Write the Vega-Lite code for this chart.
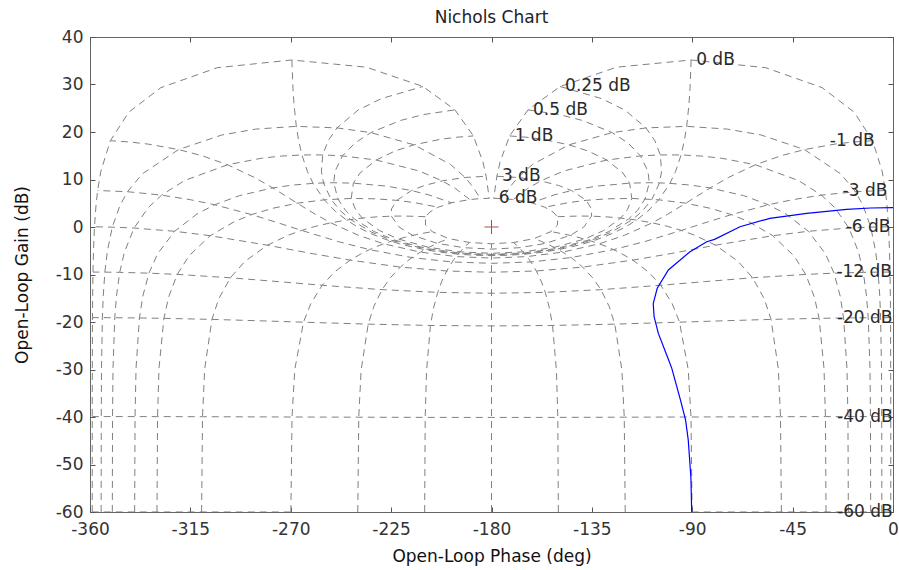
{
"$schema":"https://vega.github.io/schema/vega-lite/v6.json",
"width":803,"height":475,
"autosize":{"type":"none"},
"padding":{"left":90,"top":37,"right":6,"bottom":58},
"background":"white",
"title":{"text":"Nichols Chart","fontSize":17,"font":"DejaVu Sans","fontWeight":"normal","color":"#222","offset":1},
"config":{"view":{"stroke":"#666","strokeWidth":1},"font":"DejaVu Sans"},
"datasets":{
"grid":[
{"g":"p1","x":-1.00,"y":-59.99},{"g":"p1","x":-1.01,"y":-39.91},{"g":"p1","x":-1.03,"y":-29.72},{"g":"p1","x":-1.11,"y":-19.08},{"g":"p1","x":-1.19,"y":-14.50},{"g":"p1","x":-1.34,"y":-9.49},{"g":"p1","x":-1.55,"y":-5.20},{"g":"p1","x":-2.00,"y":0.04},{"g":"p1","x":-2.71,"y":4.65},{"g":"p1","x":-3.42,"y":7.68},{"g":"p1","x":-4.85,"y":11.71},{"g":"p1","x":-9.13,"y":18.17},{"g":"p1","x":-17.37,"y":24.16},{"g":"p1","x":-31.74,"y":29.33},{"g":"p1","x":-57.08,"y":33.54},{"g":"p1","x":-90.5,"y":35.16},{"g":"p1","x":-123.91,"y":33.64},{"g":"p1","x":-149.26,"y":29.58},{"g":"p1","x":-163.63,"y":24.66},{"g":"p1","x":-171.87,"y":19.17},{"g":"p1","x":-176.15,"y":13.71},{"g":"p1","x":-177.58,"y":10.68},{"g":"p1","x":-179.0,"y":6.04},
{"g":"q1","x":-359.00,"y":-59.99},{"g":"q1","x":-358.99,"y":-39.91},{"g":"q1","x":-358.97,"y":-29.72},{"g":"q1","x":-358.89,"y":-19.08},{"g":"q1","x":-358.81,"y":-14.50},{"g":"q1","x":-358.66,"y":-9.49},{"g":"q1","x":-358.45,"y":-5.20},{"g":"q1","x":-358.00,"y":0.04},{"g":"q1","x":-357.29,"y":4.65},{"g":"q1","x":-356.58,"y":7.68},{"g":"q1","x":-355.15,"y":11.71},{"g":"q1","x":-350.87,"y":18.17},{"g":"q1","x":-342.63,"y":24.16},{"g":"q1","x":-328.26,"y":29.33},{"g":"q1","x":-302.92,"y":33.54},{"g":"q1","x":-269.5,"y":35.16},{"g":"q1","x":-236.09,"y":33.64},{"g":"q1","x":-210.74,"y":29.58},{"g":"q1","x":-196.37,"y":24.66},{"g":"q1","x":-188.13,"y":19.17},{"g":"q1","x":-183.85,"y":13.71},{"g":"q1","x":-182.42,"y":10.68},{"g":"q1","x":-181.0,"y":6.04},
{"g":"p5","x":-5.00,"y":-59.99},{"g":"p5","x":-5.05,"y":-39.91},{"g":"p5","x":-5.16,"y":-29.72},{"g":"p5","x":-5.55,"y":-19.09},{"g":"p5","x":-5.94,"y":-14.51},{"g":"p5","x":-6.67,"y":-9.50},{"g":"p5","x":-7.74,"y":-5.22},{"g":"p5","x":-9.99,"y":-0.03},{"g":"p5","x":-13.42,"y":4.51},{"g":"p5","x":-16.82,"y":7.43},{"g":"p5","x":-23.35,"y":11.16},{"g":"p5","x":-39.71,"y":16.30},{"g":"p5","x":-59.11,"y":19.37},{"g":"p5","x":-74.26,"y":20.61},{"g":"p5","x":-92.5,"y":21.19},{"g":"p5","x":-110.74,"y":20.86},{"g":"p5","x":-125.88,"y":19.87},{"g":"p5","x":-145.29,"y":17.30},{"g":"p5","x":-161.65,"y":13.16},{"g":"p5","x":-168.18,"y":10.43},{"g":"p5","x":-171.58,"y":8.51},{"g":"p5","x":-175.02,"y":5.98},
{"g":"q5","x":-355.00,"y":-59.99},{"g":"q5","x":-354.95,"y":-39.91},{"g":"q5","x":-354.84,"y":-29.72},{"g":"q5","x":-354.45,"y":-19.09},{"g":"q5","x":-354.06,"y":-14.51},{"g":"q5","x":-353.33,"y":-9.50},{"g":"q5","x":-352.26,"y":-5.22},{"g":"q5","x":-350.01,"y":-0.03},{"g":"q5","x":-346.58,"y":4.51},{"g":"q5","x":-343.18,"y":7.43},{"g":"q5","x":-336.65,"y":11.16},{"g":"q5","x":-320.29,"y":16.30},{"g":"q5","x":-300.89,"y":19.37},{"g":"q5","x":-285.74,"y":20.61},{"g":"q5","x":-267.5,"y":21.19},{"g":"q5","x":-249.26,"y":20.86},{"g":"q5","x":-234.12,"y":19.87},{"g":"q5","x":-214.71,"y":17.30},{"g":"q5","x":-198.35,"y":13.16},{"g":"q5","x":-191.82,"y":10.43},{"g":"q5","x":-188.42,"y":8.51},{"g":"q5","x":-184.98,"y":5.98},
{"g":"p10","x":-10.01,"y":-59.99},{"g":"p10","x":-10.10,"y":-39.91},{"g":"p10","x":-10.32,"y":-29.73},{"g":"p10","x":-11.10,"y":-19.10},{"g":"p10","x":-11.87,"y":-14.53},{"g":"p10","x":-13.32,"y":-9.55},{"g":"p10","x":-15.41,"y":-5.31},{"g":"p10","x":-19.75,"y":-0.22},{"g":"p10","x":-26.14,"y":4.09},{"g":"p10","x":-32.10,"y":6.71},{"g":"p10","x":-42.35,"y":9.78},{"g":"p10","x":-61.68,"y":13.10},{"g":"p10","x":-76.80,"y":14.47},{"g":"p10","x":-85.66,"y":14.93},{"g":"p10","x":-95,"y":15.17},{"g":"p10","x":-104.34,"y":15.18},{"g":"p10","x":-113.20,"y":14.97},{"g":"p10","x":-128.32,"y":14.10},{"g":"p10","x":-147.65,"y":11.78},{"g":"p10","x":-157.90,"y":9.71},{"g":"p10","x":-163.86,"y":8.09},{"g":"p10","x":-170.25,"y":5.78},
{"g":"q10","x":-349.99,"y":-59.99},{"g":"q10","x":-349.90,"y":-39.91},{"g":"q10","x":-349.68,"y":-29.73},{"g":"q10","x":-348.90,"y":-19.10},{"g":"q10","x":-348.13,"y":-14.53},{"g":"q10","x":-346.68,"y":-9.55},{"g":"q10","x":-344.59,"y":-5.31},{"g":"q10","x":-340.25,"y":-0.22},{"g":"q10","x":-333.86,"y":4.09},{"g":"q10","x":-327.90,"y":6.71},{"g":"q10","x":-317.65,"y":9.78},{"g":"q10","x":-298.32,"y":13.10},{"g":"q10","x":-283.20,"y":14.47},{"g":"q10","x":-274.34,"y":14.93},{"g":"q10","x":-265,"y":15.17},{"g":"q10","x":-255.66,"y":15.18},{"g":"q10","x":-246.80,"y":14.97},{"g":"q10","x":-231.68,"y":14.10},{"g":"q10","x":-212.35,"y":11.78},{"g":"q10","x":-202.10,"y":9.71},{"g":"q10","x":-196.14,"y":8.09},{"g":"q10","x":-189.75,"y":5.78},
{"g":"p20","x":-20.02,"y":-60},{"g":"p20","x":-20.20,"y":-39.92},{"g":"p20","x":-20.64,"y":-29.74},{"g":"p20","x":-22.16,"y":-19.15},{"g":"p20","x":-23.64,"y":-14.62},{"g":"p20","x":-26.42,"y":-9.72},{"g":"p20","x":-30.32,"y":-5.62},{"g":"p20","x":-37.95,"y":-0.90},{"g":"p20","x":-47.93,"y":2.73},{"g":"p20","x":-55.88,"y":4.68},{"g":"p20","x":-66.97,"y":6.60},{"g":"p20","x":-81.94,"y":8.23},{"g":"p20","x":-90.73,"y":8.82},{"g":"p20","x":-100,"y":9.19},{"g":"p20","x":-104.67,"y":9.28},{"g":"p20","x":-109.27,"y":9.32},{"g":"p20","x":-118.06,"y":9.23},{"g":"p20","x":-133.03,"y":8.60},{"g":"p20","x":-144.12,"y":7.68},{"g":"p20","x":-152.07,"y":6.73},{"g":"p20","x":-162.05,"y":5.10},
{"g":"q20","x":-339.98,"y":-60},{"g":"q20","x":-339.80,"y":-39.92},{"g":"q20","x":-339.36,"y":-29.74},{"g":"q20","x":-337.84,"y":-19.15},{"g":"q20","x":-336.36,"y":-14.62},{"g":"q20","x":-333.58,"y":-9.72},{"g":"q20","x":-329.68,"y":-5.62},{"g":"q20","x":-322.05,"y":-0.90},{"g":"q20","x":-312.07,"y":2.73},{"g":"q20","x":-304.12,"y":4.68},{"g":"q20","x":-293.03,"y":6.60},{"g":"q20","x":-278.06,"y":8.23},{"g":"q20","x":-269.27,"y":8.82},{"g":"q20","x":-260,"y":9.19},{"g":"q20","x":-255.33,"y":9.28},{"g":"q20","x":-250.73,"y":9.32},{"g":"q20","x":-241.94,"y":9.23},{"g":"q20","x":-226.97,"y":8.60},{"g":"q20","x":-215.88,"y":7.68},{"g":"q20","x":-207.93,"y":6.73},{"g":"q20","x":-197.95,"y":5.10},
{"g":"p30","x":-30.03,"y":-60},{"g":"p30","x":-30.29,"y":-39.92},{"g":"p30","x":-30.93,"y":-29.76},{"g":"p30","x":-33.13,"y":-19.23},{"g":"p30","x":-35.25,"y":-14.75},{"g":"p30","x":-39.12,"y":-9.98},{"g":"p30","x":-44.36,"y":-6.09},{"g":"p30","x":-53.88,"y":-1.83},{"g":"p30","x":-64.82,"y":1.15},{"g":"p30","x":-72.45,"y":2.61},{"g":"p30","x":-81.84,"y":3.93},{"g":"p30","x":-92.89,"y":5.01},{"g":"p30","x":-105,"y":5.72},{"g":"p30","x":-117.11,"y":6.01},{"g":"p30","x":-128.16,"y":5.93},{"g":"p30","x":-137.55,"y":5.61},{"g":"p30","x":-145.18,"y":5.15},{"g":"p30","x":-156.12,"y":4.17},
{"g":"q30","x":-329.97,"y":-60},{"g":"q30","x":-329.71,"y":-39.92},{"g":"q30","x":-329.07,"y":-29.76},{"g":"q30","x":-326.87,"y":-19.23},{"g":"q30","x":-324.75,"y":-14.75},{"g":"q30","x":-320.88,"y":-9.98},{"g":"q30","x":-315.64,"y":-6.09},{"g":"q30","x":-306.12,"y":-1.83},{"g":"q30","x":-295.18,"y":1.15},{"g":"q30","x":-287.55,"y":2.61},{"g":"q30","x":-278.16,"y":3.93},{"g":"q30","x":-267.11,"y":5.01},{"g":"q30","x":-255,"y":5.72},{"g":"q30","x":-242.89,"y":6.01},{"g":"q30","x":-231.84,"y":5.93},{"g":"q30","x":-222.45,"y":5.61},{"g":"q30","x":-214.82,"y":5.15},{"g":"q30","x":-203.88,"y":4.17},
{"g":"p50","x":-50.04,"y":-60},{"g":"p50","x":-50.44,"y":-39.94},{"g":"p50","x":-51.42,"y":-29.82},{"g":"p50","x":-54.68,"y":-19.45},{"g":"p50","x":-57.70,"y":-15.15},{"g":"p50","x":-62.92,"y":-10.69},{"g":"p50","x":-69.40,"y":-7.26},{"g":"p50","x":-79.53,"y":-3.83},{"g":"p50","x":-89.11,"y":-1.69},{"g":"p50","x":-94.86,"y":-0.72},{"g":"p50","x":-101.19,"y":0.15},{"g":"p50","x":-107.97,"y":0.88},{"g":"p50","x":-115,"y":1.46},{"g":"p50","x":-122.03,"y":1.88},{"g":"p50","x":-128.81,"y":2.15},{"g":"p50","x":-135.14,"y":2.28},{"g":"p50","x":-140.88,"y":2.31},{"g":"p50","x":-150.47,"y":2.17},
{"g":"q50","x":-309.96,"y":-60},{"g":"q50","x":-309.56,"y":-39.94},{"g":"q50","x":-308.58,"y":-29.82},{"g":"q50","x":-305.32,"y":-19.45},{"g":"q50","x":-302.30,"y":-15.15},{"g":"q50","x":-297.08,"y":-10.69},{"g":"q50","x":-290.60,"y":-7.26},{"g":"q50","x":-280.47,"y":-3.83},{"g":"q50","x":-270.89,"y":-1.69},{"g":"q50","x":-265.14,"y":-0.72},{"g":"q50","x":-258.81,"y":0.15},{"g":"q50","x":-252.03,"y":0.88},{"g":"q50","x":-245,"y":1.46},{"g":"q50","x":-237.97,"y":1.88},{"g":"q50","x":-231.19,"y":2.15},{"g":"q50","x":-224.86,"y":2.28},{"g":"q50","x":-219.12,"y":2.31},{"g":"q50","x":-209.53,"y":2.17},
{"g":"p90","x":-90.06,"y":-60},{"g":"p90","x":-90.57,"y":-40.00},{"g":"p90","x":-91.81,"y":-30.00},{"g":"p90","x":-95.71,"y":-20.04},{"g":"p90","x":-99.01,"y":-16.11},{"g":"p90","x":-104.10,"y":-12.27},{"g":"p90","x":-109.53,"y":-9.52},{"g":"p90","x":-116.62,"y":-6.97},{"g":"p90","x":-122.25,"y":-5.46},{"g":"p90","x":-125.30,"y":-4.76},{"g":"p90","x":-128.46,"y":-4.12},{"g":"p90","x":-131.70,"y":-3.54},{"g":"p90","x":-135,"y":-3.01},{"g":"p90","x":-138.30,"y":-2.54},{"g":"p90","x":-141.54,"y":-2.12},{"g":"p90","x":-144.70,"y":-1.76},{"g":"p90","x":-147.75,"y":-1.46},{"g":"p90","x":-153.38,"y":-0.97},
{"g":"q90","x":-269.94,"y":-60},{"g":"q90","x":-269.43,"y":-40.00},{"g":"q90","x":-268.19,"y":-30.00},{"g":"q90","x":-264.29,"y":-20.04},{"g":"q90","x":-260.99,"y":-16.11},{"g":"q90","x":-255.90,"y":-12.27},{"g":"q90","x":-250.47,"y":-9.52},{"g":"q90","x":-243.38,"y":-6.97},{"g":"q90","x":-237.75,"y":-5.46},{"g":"q90","x":-234.70,"y":-4.76},{"g":"q90","x":-231.54,"y":-4.12},{"g":"q90","x":-228.30,"y":-3.54},{"g":"q90","x":-225,"y":-3.01},{"g":"q90","x":-221.70,"y":-2.54},{"g":"q90","x":-218.46,"y":-2.12},{"g":"q90","x":-215.30,"y":-1.76},{"g":"q90","x":-212.25,"y":-1.46},{"g":"q90","x":-206.62,"y":-0.97},
{"g":"p120","x":-120.05,"y":-60},{"g":"p120","x":-120.49,"y":-40.04},{"g":"p120","x":-121.54,"y":-30.14},{"g":"p120","x":-124.72,"y":-20.45},{"g":"p120","x":-127.25,"y":-16.73},{"g":"p120","x":-130.94,"y":-13.19},{"g":"p120","x":-134.63,"y":-10.70},{"g":"p120","x":-139.14,"y":-8.44},{"g":"p120","x":-142.55,"y":-7.07},{"g":"p120","x":-144.36,"y":-6.44},{"g":"p120","x":-146.21,"y":-5.85},{"g":"p120","x":-148.10,"y":-5.29},{"g":"p120","x":-150,"y":-4.77},{"g":"p120","x":-151.90,"y":-4.29},{"g":"p120","x":-153.79,"y":-3.85},{"g":"p120","x":-155.64,"y":-3.44},{"g":"p120","x":-157.45,"y":-3.07},{"g":"p120","x":-160.86,"y":-2.44},
{"g":"q120","x":-239.95,"y":-60},{"g":"q120","x":-239.51,"y":-40.04},{"g":"q120","x":-238.46,"y":-30.14},{"g":"q120","x":-235.28,"y":-20.45},{"g":"q120","x":-232.75,"y":-16.73},{"g":"q120","x":-229.06,"y":-13.19},{"g":"q120","x":-225.37,"y":-10.70},{"g":"q120","x":-220.86,"y":-8.44},{"g":"q120","x":-217.45,"y":-7.07},{"g":"q120","x":-215.64,"y":-6.44},{"g":"q120","x":-213.79,"y":-5.85},{"g":"q120","x":-211.90,"y":-5.29},{"g":"q120","x":-210,"y":-4.77},{"g":"q120","x":-208.10,"y":-4.29},{"g":"q120","x":-206.21,"y":-3.85},{"g":"q120","x":-204.36,"y":-3.44},{"g":"q120","x":-202.55,"y":-3.07},{"g":"q120","x":-199.14,"y":-2.44},
{"g":"p150","x":-150.03,"y":-60.01},{"g":"p150","x":-150.28,"y":-40.08},{"g":"p150","x":-150.88,"y":-30.24},{"g":"p150","x":-152.63,"y":-20.73},{"g":"p150","x":-153.99,"y":-17.14},{"g":"p150","x":-155.89,"y":-13.76},{"g":"p150","x":-157.73,"y":-11.41},{"g":"p150","x":-159.91,"y":-9.26},{"g":"p150","x":-161.53,"y":-7.96},{"g":"p150","x":-162.38,"y":-7.36},{"g":"p150","x":-163.24,"y":-6.78},{"g":"p150","x":-164.12,"y":-6.23},{"g":"p150","x":-165,"y":-5.72},{"g":"p150","x":-165.88,"y":-5.23},{"g":"p150","x":-166.76,"y":-4.78},{"g":"p150","x":-167.62,"y":-4.36},{"g":"p150","x":-168.47,"y":-3.96},{"g":"p150","x":-170.09,"y":-3.26},
{"g":"q150","x":-209.97,"y":-60.01},{"g":"q150","x":-209.72,"y":-40.08},{"g":"q150","x":-209.12,"y":-30.24},{"g":"q150","x":-207.37,"y":-20.73},{"g":"q150","x":-206.01,"y":-17.14},{"g":"q150","x":-204.11,"y":-13.76},{"g":"q150","x":-202.27,"y":-11.41},{"g":"q150","x":-200.09,"y":-9.26},{"g":"q150","x":-198.47,"y":-7.96},{"g":"q150","x":-197.62,"y":-7.36},{"g":"q150","x":-196.76,"y":-6.78},{"g":"q150","x":-195.88,"y":-6.23},{"g":"q150","x":-195,"y":-5.72},{"g":"q150","x":-194.12,"y":-5.23},{"g":"q150","x":-193.24,"y":-4.78},{"g":"q150","x":-192.38,"y":-4.36},{"g":"q150","x":-191.53,"y":-3.96},{"g":"q150","x":-189.91,"y":-3.26},
{"g":"p180","x":-180,"y":-60.01},{"g":"p180","x":-180,"y":-3.53},
{"g":"c6","x":-179.0,"y":6.04},{"g":"c6","x":-175.02,"y":5.98},{"g":"c6","x":-170.25,"y":5.78},{"g":"c6","x":-162.05,"y":5.10},{"g":"c6","x":-156.12,"y":4.17},{"g":"c6","x":-152.40,"y":3.16},{"g":"c6","x":-150.47,"y":2.17},{"g":"c6","x":-150.39,"y":0.42},{"g":"c6","x":-153.38,"y":-0.97},{"g":"c6","x":-160.86,"y":-2.44},{"g":"c6","x":-170.09,"y":-3.26},{"g":"c6","x":-180,"y":-3.53},{"g":"c6","x":-189.91,"y":-3.26},{"g":"c6","x":-199.14,"y":-2.44},{"g":"c6","x":-206.62,"y":-0.97},{"g":"c6","x":-209.61,"y":0.42},{"g":"c6","x":-209.53,"y":2.17},{"g":"c6","x":-207.60,"y":3.16},{"g":"c6","x":-203.88,"y":4.17},{"g":"c6","x":-197.95,"y":5.10},{"g":"c6","x":-189.75,"y":5.78},{"g":"c6","x":-184.98,"y":5.98},{"g":"c6","x":-181.0,"y":6.04},
{"g":"c3","x":-177.58,"y":10.68},{"g":"c3","x":-168.18,"y":10.43},{"g":"c3","x":-157.90,"y":9.71},{"g":"c3","x":-149.91,"y":8.74},{"g":"c3","x":-144.12,"y":7.68},{"g":"c3","x":-137.55,"y":5.61},{"g":"c3","x":-135.16,"y":3.80},{"g":"c3","x":-135.14,"y":2.28},{"g":"c3","x":-138.72,"y":-0.07},{"g":"c3","x":-144.70,"y":-1.76},{"g":"c3","x":-155.64,"y":-3.44},{"g":"c3","x":-167.62,"y":-4.36},{"g":"c3","x":-180,"y":-4.65},{"g":"c3","x":-192.38,"y":-4.36},{"g":"c3","x":-204.36,"y":-3.44},{"g":"c3","x":-215.30,"y":-1.76},{"g":"c3","x":-221.28,"y":-0.07},{"g":"c3","x":-224.86,"y":2.28},{"g":"c3","x":-224.84,"y":3.80},{"g":"c3","x":-222.45,"y":5.61},{"g":"c3","x":-215.88,"y":7.68},{"g":"c3","x":-210.09,"y":8.74},{"g":"c3","x":-202.10,"y":9.71},{"g":"c3","x":-191.82,"y":10.43},{"g":"c3","x":-182.42,"y":10.68},
{"g":"c1","x":-171.87,"y":19.17},{"g":"c1","x":-164.11,"y":18.89},{"g":"c1","x":-157.02,"y":18.46},{"g":"c1","x":-145.29,"y":17.30},{"g":"c1","x":-136.73,"y":16.00},{"g":"c1","x":-128.32,"y":14.10},{"g":"c1","x":-121.10,"y":11.39},{"g":"c1","x":-118.06,"y":9.23},{"g":"c1","x":-117.11,"y":6.01},{"g":"c1","x":-119.02,"y":3.68},{"g":"c1","x":-122.03,"y":1.88},{"g":"c1","x":-129.70,"y":-0.74},{"g":"c1","x":-138.30,"y":-2.54},{"g":"c1","x":-151.90,"y":-4.29},{"g":"c1","x":-165.88,"y":-5.23},{"g":"c1","x":-180,"y":-5.54},{"g":"c1","x":-194.12,"y":-5.23},{"g":"c1","x":-208.10,"y":-4.29},{"g":"c1","x":-221.70,"y":-2.54},{"g":"c1","x":-230.30,"y":-0.74},{"g":"c1","x":-237.97,"y":1.88},{"g":"c1","x":-240.98,"y":3.68},{"g":"c1","x":-242.89,"y":6.01},{"g":"c1","x":-241.94,"y":9.23},{"g":"c1","x":-238.90,"y":11.39},{"g":"c1","x":-231.68,"y":14.10},{"g":"c1","x":-223.27,"y":16.00},{"g":"c1","x":-214.71,"y":17.30},{"g":"c1","x":-202.98,"y":18.46},{"g":"c1","x":-195.89,"y":18.89},{"g":"c1","x":-188.13,"y":19.17},
{"g":"c05","x":-163.63,"y":24.66},{"g":"c05","x":-149.76,"y":23.69},{"g":"c05","x":-139.20,"y":22.43},{"g":"c05","x":-125.88,"y":19.87},{"g":"c05","x":-118.69,"y":17.64},{"g":"c05","x":-113.20,"y":14.97},{"g":"c05","x":-109.83,"y":11.71},{"g":"c05","x":-109.27,"y":9.32},{"g":"c05","x":-111.13,"y":5.92},{"g":"c05","x":-114.52,"y":3.52},{"g":"c05","x":-118.53,"y":1.69},{"g":"c05","x":-127.35,"y":-0.95},{"g":"c05","x":-136.64,"y":-2.77},{"g":"c05","x":-150.95,"y":-4.53},{"g":"c05","x":-165.44,"y":-5.47},{"g":"c05","x":-180,"y":-5.77},{"g":"c05","x":-194.56,"y":-5.47},{"g":"c05","x":-209.05,"y":-4.53},{"g":"c05","x":-223.36,"y":-2.77},{"g":"c05","x":-232.65,"y":-0.95},{"g":"c05","x":-241.47,"y":1.69},{"g":"c05","x":-245.48,"y":3.52},{"g":"c05","x":-248.87,"y":5.92},{"g":"c05","x":-250.73,"y":9.32},{"g":"c05","x":-250.17,"y":11.71},{"g":"c05","x":-246.80,"y":14.97},{"g":"c05","x":-241.31,"y":17.64},{"g":"c05","x":-234.12,"y":19.87},{"g":"c05","x":-220.80,"y":22.43},{"g":"c05","x":-210.24,"y":23.69},{"g":"c05","x":-196.37,"y":24.66},
{"g":"c025","x":-149.26,"y":29.58},{"g":"c025","x":-130.51,"y":27.01},{"g":"c025","x":-120.12,"y":24.60},{"g":"c025","x":-110.74,"y":20.86},{"g":"c025","x":-106.74,"y":18.16},{"g":"c025","x":-104.34,"y":15.18},{"g":"c025","x":-103.74,"y":11.74},{"g":"c025","x":-104.67,"y":9.28},{"g":"c025","x":-108.07,"y":5.83},{"g":"c025","x":-112.26,"y":3.42},{"g":"c025","x":-116.77,"y":1.58},{"g":"c025","x":-126.18,"y":-1.07},{"g":"c025","x":-135.82,"y":-2.89},{"g":"c025","x":-150.48,"y":-4.65},{"g":"c025","x":-165.22,"y":-5.60},{"g":"c025","x":-180,"y":-5.90},{"g":"c025","x":-194.78,"y":-5.60},{"g":"c025","x":-209.52,"y":-4.65},{"g":"c025","x":-224.18,"y":-2.89},{"g":"c025","x":-233.82,"y":-1.07},{"g":"c025","x":-243.23,"y":1.58},{"g":"c025","x":-247.74,"y":3.42},{"g":"c025","x":-251.93,"y":5.83},{"g":"c025","x":-255.33,"y":9.28},{"g":"c025","x":-256.26,"y":11.74},{"g":"c025","x":-255.66,"y":15.18},{"g":"c025","x":-253.26,"y":18.16},{"g":"c025","x":-249.26,"y":20.86},{"g":"c025","x":-239.88,"y":24.60},{"g":"c025","x":-229.49,"y":27.01},{"g":"c025","x":-210.74,"y":29.58},
{"g":"c0","x":-90.5,"y":35.16},{"g":"c0","x":-91,"y":29.14},{"g":"c0","x":-91.5,"y":25.62},{"g":"c0","x":-92.5,"y":21.19},{"g":"c0","x":-93.5,"y":18.27},{"g":"c0","x":-95,"y":15.17},{"g":"c0","x":-97.5,"y":11.67},{"g":"c0","x":-100,"y":9.19},{"g":"c0","x":-105,"y":5.72},{"g":"c0","x":-110,"y":3.30},{"g":"c0","x":-115,"y":1.46},{"g":"c0","x":-120,"y":0},{"g":"c0","x":-125,"y":-1.19},{"g":"c0","x":-130,"y":-2.18},{"g":"c0","x":-135,"y":-3.01},{"g":"c0","x":-140,"y":-3.71},{"g":"c0","x":-150,"y":-4.77},{"g":"c0","x":-157.5,"y":-5.33},{"g":"c0","x":-165,"y":-5.72},{"g":"c0","x":-172.5,"y":-5.95},{"g":"c0","x":-180,"y":-6.02},{"g":"c0","x":-187.5,"y":-5.95},{"g":"c0","x":-195,"y":-5.72},{"g":"c0","x":-202.5,"y":-5.33},{"g":"c0","x":-210,"y":-4.77},{"g":"c0","x":-220,"y":-3.71},{"g":"c0","x":-225,"y":-3.01},{"g":"c0","x":-230,"y":-2.18},{"g":"c0","x":-235,"y":-1.19},{"g":"c0","x":-240,"y":0},{"g":"c0","x":-245,"y":1.46},{"g":"c0","x":-250,"y":3.30},{"g":"c0","x":-255,"y":5.72},{"g":"c0","x":-260,"y":9.19},{"g":"c0","x":-262.5,"y":11.67},{"g":"c0","x":-265,"y":15.17},{"g":"c0","x":-266.5,"y":18.27},{"g":"c0","x":-267.5,"y":21.19},{"g":"c0","x":-268.5,"y":25.62},{"g":"c0","x":-269,"y":29.14},{"g":"c0","x":-269.5,"y":35.16},
{"g":"m1","x":-9.13,"y":18.17},{"g":"m1","x":-17.89,"y":17.89},{"g":"m1","x":-25.98,"y":17.46},{"g":"m1","x":-39.71,"y":16.30},{"g":"m1","x":-50.27,"y":15.00},{"g":"m1","x":-61.68,"y":13.10},{"g":"m1","x":-73.90,"y":10.39},{"g":"m1","x":-81.94,"y":8.23},{"g":"m1","x":-92.89,"y":5.01},{"g":"m1","x":-101.02,"y":2.68},{"g":"m1","x":-107.97,"y":0.88},{"g":"m1","x":-120.30,"y":-1.74},{"g":"m1","x":-131.70,"y":-3.54},{"g":"m1","x":-148.10,"y":-5.29},{"g":"m1","x":-164.12,"y":-6.23},{"g":"m1","x":-180,"y":-6.54},{"g":"m1","x":-195.88,"y":-6.23},{"g":"m1","x":-211.90,"y":-5.29},{"g":"m1","x":-228.30,"y":-3.54},{"g":"m1","x":-239.70,"y":-1.74},{"g":"m1","x":-252.03,"y":0.88},{"g":"m1","x":-258.98,"y":2.68},{"g":"m1","x":-267.11,"y":5.01},{"g":"m1","x":-278.06,"y":8.23},{"g":"m1","x":-286.10,"y":10.39},{"g":"m1","x":-298.32,"y":13.10},{"g":"m1","x":-309.73,"y":15.00},{"g":"m1","x":-320.29,"y":16.30},{"g":"m1","x":-334.02,"y":17.46},{"g":"m1","x":-342.11,"y":17.89},{"g":"m1","x":-350.87,"y":18.17},
{"g":"m3","x":-3.42,"y":7.68},{"g":"m3","x":-16.82,"y":7.43},{"g":"m3","x":-32.10,"y":6.71},{"g":"m3","x":-45.09,"y":5.74},{"g":"m3","x":-55.88,"y":4.68},{"g":"m3","x":-72.45,"y":2.61},{"g":"m3","x":-84.84,"y":0.80},{"g":"m3","x":-94.86,"y":-0.72},{"g":"m3","x":-111.28,"y":-3.07},{"g":"m3","x":-125.30,"y":-4.76},{"g":"m3","x":-144.36,"y":-6.44},{"g":"m3","x":-162.38,"y":-7.36},{"g":"m3","x":-180,"y":-7.65},{"g":"m3","x":-197.62,"y":-7.36},{"g":"m3","x":-215.64,"y":-6.44},{"g":"m3","x":-234.70,"y":-4.76},{"g":"m3","x":-248.72,"y":-3.07},{"g":"m3","x":-265.14,"y":-0.72},{"g":"m3","x":-275.16,"y":0.80},{"g":"m3","x":-287.55,"y":2.61},{"g":"m3","x":-304.12,"y":4.68},{"g":"m3","x":-314.91,"y":5.74},{"g":"m3","x":-327.90,"y":6.71},{"g":"m3","x":-343.18,"y":7.43},{"g":"m3","x":-356.58,"y":7.68},
{"g":"m6","x":-2.00,"y":0.04},{"g":"m6","x":-9.99,"y":-0.03},{"g":"m6","x":-19.75,"y":-0.22},{"g":"m6","x":-37.95,"y":-0.90},{"g":"m6","x":-53.88,"y":-1.83},{"g":"m6","x":-79.53,"y":-3.83},{"g":"m6","x":-99.62,"y":-5.60},{"g":"m6","x":-116.62,"y":-6.97},{"g":"m6","x":-139.14,"y":-8.44},{"g":"m6","x":-159.91,"y":-9.26},{"g":"m6","x":-180,"y":-9.53},{"g":"m6","x":-200.09,"y":-9.26},{"g":"m6","x":-220.86,"y":-8.44},{"g":"m6","x":-243.38,"y":-6.97},{"g":"m6","x":-260.38,"y":-5.60},{"g":"m6","x":-280.47,"y":-3.83},{"g":"m6","x":-306.12,"y":-1.83},{"g":"m6","x":-322.05,"y":-0.90},{"g":"m6","x":-340.25,"y":-0.22},{"g":"m6","x":-350.01,"y":-0.03},{"g":"m6","x":-358.00,"y":0.04},
{"g":"m12","x":-1.34,"y":-9.49},{"g":"m12","x":-6.67,"y":-9.50},{"g":"m12","x":-13.32,"y":-9.55},{"g":"m12","x":-26.42,"y":-9.72},{"g":"m12","x":-39.12,"y":-9.98},{"g":"m12","x":-62.92,"y":-10.69},{"g":"m12","x":-84.48,"y":-11.50},{"g":"m12","x":-104.10,"y":-12.27},{"g":"m12","x":-130.94,"y":-13.19},{"g":"m12","x":-155.89,"y":-13.76},{"g":"m12","x":-180,"y":-13.95},{"g":"m12","x":-204.11,"y":-13.76},{"g":"m12","x":-229.06,"y":-13.19},{"g":"m12","x":-255.90,"y":-12.27},{"g":"m12","x":-275.52,"y":-11.50},{"g":"m12","x":-297.08,"y":-10.69},{"g":"m12","x":-320.88,"y":-9.98},{"g":"m12","x":-333.58,"y":-9.72},{"g":"m12","x":-346.68,"y":-9.55},{"g":"m12","x":-353.33,"y":-9.50},{"g":"m12","x":-358.66,"y":-9.49},
{"g":"m20","x":-1.11,"y":-19.08},{"g":"m20","x":-5.55,"y":-19.09},{"g":"m20","x":-11.10,"y":-19.10},{"g":"m20","x":-22.16,"y":-19.15},{"g":"m20","x":-33.13,"y":-19.23},{"g":"m20","x":-54.68,"y":-19.45},{"g":"m20","x":-75.56,"y":-19.74},{"g":"m20","x":-95.71,"y":-20.04},{"g":"m20","x":-124.72,"y":-20.45},{"g":"m20","x":-152.63,"y":-20.73},{"g":"m20","x":-180,"y":-20.83},{"g":"m20","x":-207.37,"y":-20.73},{"g":"m20","x":-235.28,"y":-20.45},{"g":"m20","x":-264.29,"y":-20.04},{"g":"m20","x":-284.44,"y":-19.74},{"g":"m20","x":-305.32,"y":-19.45},{"g":"m20","x":-326.87,"y":-19.23},{"g":"m20","x":-337.84,"y":-19.15},{"g":"m20","x":-348.90,"y":-19.10},{"g":"m20","x":-354.45,"y":-19.09},{"g":"m20","x":-358.89,"y":-19.08},
{"g":"m40","x":-1.01,"y":-39.91},{"g":"m40","x":-10.10,"y":-39.91},{"g":"m40","x":-30.29,"y":-39.92},{"g":"m40","x":-50.44,"y":-39.94},{"g":"m40","x":-90.57,"y":-40.00},{"g":"m40","x":-120.49,"y":-40.04},{"g":"m40","x":-150.28,"y":-40.08},{"g":"m40","x":-180,"y":-40.09},{"g":"m40","x":-209.72,"y":-40.08},{"g":"m40","x":-239.51,"y":-40.04},{"g":"m40","x":-269.43,"y":-40.00},{"g":"m40","x":-309.56,"y":-39.94},{"g":"m40","x":-329.71,"y":-39.92},{"g":"m40","x":-349.90,"y":-39.91},{"g":"m40","x":-358.99,"y":-39.91},
{"g":"m60a","x":-1,"y":-59.99},{"g":"m60a","x":-90,"y":-60},
{"g":"m60b","x":-270,"y":-60},{"g":"m60b","x":-359,"y":-59.99}
],
"resp":[
{"x":-90.25,"y":-60},{"x":-90.6,"y":-52.8},{"x":-91.8,"y":-44.8},{"x":-93.0,"y":-40.6},{"x":-95.3,"y":-36.4},{"x":-99.2,"y":-29.7},{"x":-101.5,"y":-26.9},{"x":-105.2,"y":-22.4},{"x":-107.1,"y":-18.9},{"x":-107.5,"y":-16.1},{"x":-105.7,"y":-12.9},{"x":-100.7,"y":-9.05},{"x":-91.0,"y":-5.2},{"x":-83.5,"y":-3.1},{"x":-80.0,"y":-2.6},{"x":-68.6,"y":0.06},{"x":-55.2,"y":1.83},{"x":-38.7,"y":2.88},{"x":-20.8,"y":3.73},{"x":-10,"y":4.0},{"x":0,"y":4.1}
],
"lp":[
{"t":"6 dB","x":-179.0,"y":6.04},{"t":"3 dB","x":-177.58,"y":10.68},{"t":"1 dB","x":-171.87,"y":19.17},{"t":"0.5 dB","x":-163.63,"y":24.66},{"t":"0.25 dB","x":-149.26,"y":29.58},{"t":"0 dB","x":-90.5,"y":35.16}
],
"ln":[
{"t":"-1 dB","x":-9.13,"y":18.17},{"t":"-3 dB","x":-3.42,"y":7.68},{"t":"-6 dB","x":-2.00,"y":0.04},{"t":"-12 dB","x":-1.34,"y":-9.49},{"t":"-20 dB","x":-1.11,"y":-19.08},{"t":"-40 dB","x":-1.01,"y":-39.91},{"t":"-60 dB","x":-1,"y":-59.99}
],
"ctr":[{"x":-180,"y":0}]
},
"layer":[
{"data":{"name":"grid"},
 "mark":{"type":"line","stroke":"#808080","strokeWidth":1,"strokeDash":[7,5],"clip":true},
 "encoding":{
  "x":{"field":"x","type":"quantitative","scale":{"domain":[-360,0],"nice":false,"zero":false},
   "axis":{"orient":"bottom","values":[-360,-315,-270,-225,-180,-135,-90,-45,0],"title":"Open-Loop Phase (deg)","domain":false,"grid":false,"tickSize":-5,"tickColor":"#555","labelPadding":14,"labelFont":"DejaVu Sans","labelFontSize":17,"labelColor":"#333","labelFlush":false,"labelOverlap":false,"labelExpr":"replace(datum.label,'−','-')","titleFont":"DejaVu Sans","titleFontSize":17,"titleFontWeight":"normal","titleColor":"#111","titlePadding":11}},
  "y":{"field":"y","type":"quantitative","scale":{"domain":[-60,40],"nice":false,"zero":false},
   "axis":{"orient":"left","values":[-60,-50,-40,-30,-20,-10,0,10,20,30,40],"title":"Open-Loop Gain (dB)","domain":false,"grid":false,"tickSize":-5,"tickColor":"#555","labelPadding":12,"labelFont":"DejaVu Sans","labelFontSize":17,"labelColor":"#333","labelFlush":false,"labelOverlap":false,"labelExpr":"replace(datum.label,'−','-')","titleFont":"DejaVu Sans","titleFontSize":17,"titleFontWeight":"normal","titleColor":"#111","titlePadding":24}},
  "detail":{"field":"g","type":"nominal"},
  "order":{"value":null}
 }},
{"data":{"name":"resp"},
 "mark":{"type":"line","stroke":"#0000ff","strokeWidth":1.2,"clip":true},
 "encoding":{
  "x":{"field":"x","type":"quantitative","scale":{"domain":[-360,0],"nice":false,"zero":false},
   "axis":{"orient":"top","values":[-360,-315,-270,-225,-180,-135,-90,-45,0],"labels":false,"title":null,"domain":false,"grid":false,"tickSize":-5,"tickColor":"#555"}},
  "y":{"field":"y","type":"quantitative","scale":{"domain":[-60,40],"nice":false,"zero":false},
   "axis":{"orient":"right","values":[-60,-50,-40,-30,-20,-10,0,10,20,30,40],"labels":false,"title":null,"domain":false,"grid":false,"tickSize":-5,"tickColor":"#555"}},
  "order":{"value":null}
 }},
{"data":{"name":"lp"},
 "mark":{"type":"text","align":"left","baseline":"middle","dx":5,"font":"DejaVu Sans","fontSize":17,"color":"#2a2a2a"},
 "encoding":{
  "x":{"field":"x","type":"quantitative","axis":null},
  "y":{"field":"y","type":"quantitative","axis":null},
  "text":{"field":"t"}
 }},
{"data":{"name":"ln"},
 "mark":{"type":"text","align":"right","baseline":"middle","dx":2,"font":"DejaVu Sans","fontSize":17,"color":"#2a2a2a"},
 "encoding":{
  "x":{"field":"x","type":"quantitative","axis":null},
  "y":{"field":"y","type":"quantitative","axis":null},
  "text":{"field":"t"}
 }},
{"data":{"name":"ctr"},
 "mark":{"type":"point","shape":"M-1,0L1,0M0,-1L0,1","filled":false,"stroke":"#b04a44","strokeWidth":1,"size":200,"opacity":1},
 "encoding":{
  "x":{"field":"x","type":"quantitative","axis":null},
  "y":{"field":"y","type":"quantitative","axis":null}
 }}
],
"resolve":{"axis":{"x":"independent","y":"independent"}}
}
